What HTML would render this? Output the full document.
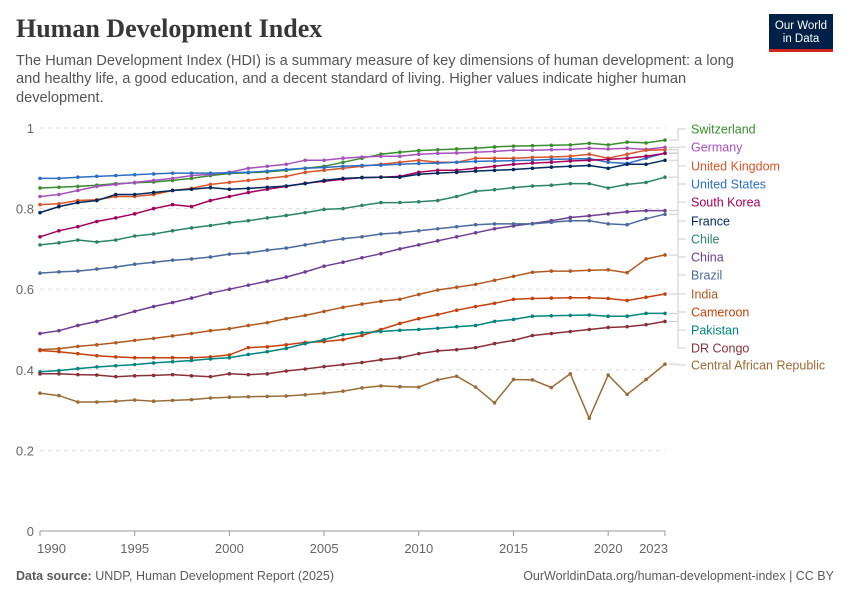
<!DOCTYPE html>
<html><head><meta charset="utf-8">
<style>
body{margin:0;background:#fff;font-family:"Liberation Sans",sans-serif;}
#wrap{position:relative;width:850px;height:600px;overflow:hidden;}
.title{position:absolute;left:16px;top:14px;font-family:"Liberation Serif",serif;font-size:26px;font-weight:bold;color:#373737;}
.sub{position:absolute;left:16px;top:52px;width:740px;font-size:14.6px;line-height:18.3px;color:#555;}
.logo{position:absolute;left:769px;top:14px;width:64px;height:38px;background:#002147;border-bottom:3px solid #ce261e;box-sizing:border-box;color:#fff;font-size:11.5px;line-height:13px;text-align:center;padding-top:6px;}
.foot{position:absolute;top:569px;font-size:12.5px;color:#5b5b5b;}
</style></head><body>
<div id="wrap">
<div class="title">Human Development Index</div>
<div class="sub">The Human Development Index (HDI) is a summary measure of key dimensions of human development: a long and healthy life, a good education, and a decent standard of living. Higher values indicate higher human development.</div>
<div class="logo">Our World<br>in Data</div>
<svg id="chart" width="850" height="600" style="position:absolute;left:0;top:0"></svg>
<div class="foot" style="left:16px"><b>Data source:</b> UNDP, Human Development Report (2025)</div>
<div class="foot" style="right:16px">OurWorldinData.org/human-development-index | CC BY</div>
</div>
<script>
const years=[];for(let y=1990;y<=2023;y++)years.push(y);
const yTicks=[0,0.2,0.4,0.6,0.8,1];
const yTickLabels=["0","0.2","0.4","0.6","0.8","1"];
const xTicks=[1990,1995,2000,2005,2010,2015,2020,2023];
const seriesNames=["Switzerland","Germany","United Kingdom","United States","South Korea","France","Chile","China","Brazil","India","Cameroon","Pakistan","DR Congo","Central African Republic"];
const seriesColors=["#3a8c2e","#a652ba","#d9552b","#2d6fc4","#a2005c","#00295b","#2c8465","#6d3e91","#4c6a9c","#b05a22","#c4410e","#00847e","#883039","#996d39"];
const labelY=[129,147,166,184,202,221,239,257,275,294,312,330,348,365];
const switzerland=[0.851,0.853,0.855,0.858,0.862,0.864,0.866,0.87,0.875,0.882,0.887,0.889,0.891,0.895,0.9,0.905,0.915,0.925,0.935,0.94,0.944,0.946,0.948,0.95,0.953,0.955,0.956,0.957,0.958,0.962,0.958,0.965,0.963,0.97];
const germany=[0.83,0.835,0.845,0.855,0.86,0.865,0.87,0.875,0.882,0.885,0.89,0.9,0.905,0.91,0.92,0.92,0.925,0.928,0.93,0.93,0.935,0.937,0.938,0.94,0.942,0.945,0.945,0.946,0.947,0.95,0.948,0.95,0.947,0.952];
const uk=[0.81,0.812,0.82,0.822,0.83,0.83,0.835,0.845,0.85,0.86,0.865,0.87,0.875,0.88,0.89,0.895,0.9,0.905,0.91,0.915,0.92,0.915,0.915,0.925,0.925,0.925,0.927,0.928,0.93,0.935,0.925,0.935,0.945,0.946];
const us=[0.875,0.875,0.878,0.88,0.882,0.884,0.886,0.888,0.888,0.888,0.889,0.89,0.893,0.897,0.9,0.902,0.905,0.907,0.908,0.91,0.912,0.913,0.915,0.917,0.918,0.919,0.92,0.922,0.923,0.924,0.915,0.912,0.925,0.938];
const southKorea=[0.73,0.745,0.755,0.768,0.777,0.787,0.8,0.81,0.805,0.82,0.83,0.84,0.848,0.855,0.863,0.868,0.873,0.877,0.878,0.88,0.89,0.895,0.895,0.9,0.905,0.91,0.913,0.915,0.918,0.92,0.922,0.925,0.93,0.937];
const france=[0.79,0.805,0.815,0.82,0.835,0.835,0.84,0.845,0.848,0.852,0.848,0.85,0.853,0.856,0.862,0.87,0.875,0.877,0.878,0.878,0.885,0.888,0.89,0.893,0.895,0.897,0.9,0.903,0.905,0.907,0.9,0.91,0.91,0.92];
const chile=[0.71,0.715,0.722,0.717,0.722,0.732,0.737,0.745,0.752,0.758,0.765,0.77,0.777,0.783,0.79,0.798,0.8,0.808,0.815,0.815,0.817,0.82,0.83,0.843,0.847,0.852,0.856,0.858,0.862,0.862,0.851,0.86,0.865,0.878];
const china=[0.49,0.497,0.51,0.52,0.532,0.545,0.557,0.567,0.578,0.59,0.6,0.61,0.62,0.63,0.643,0.657,0.667,0.678,0.688,0.7,0.71,0.72,0.73,0.74,0.75,0.757,0.763,0.77,0.778,0.782,0.787,0.792,0.795,0.795];
const brazil=[0.64,0.643,0.645,0.65,0.655,0.662,0.667,0.672,0.675,0.68,0.687,0.69,0.697,0.702,0.71,0.718,0.725,0.73,0.737,0.74,0.745,0.75,0.755,0.76,0.762,0.762,0.762,0.766,0.77,0.77,0.762,0.76,0.775,0.786];
const india=[0.45,0.452,0.458,0.462,0.467,0.473,0.478,0.484,0.49,0.497,0.502,0.51,0.517,0.527,0.535,0.545,0.555,0.563,0.57,0.575,0.587,0.598,0.605,0.612,0.622,0.632,0.642,0.645,0.645,0.647,0.648,0.641,0.675,0.685];
const cameroon=[0.448,0.445,0.44,0.435,0.432,0.43,0.43,0.43,0.43,0.432,0.437,0.455,0.457,0.462,0.468,0.47,0.475,0.485,0.5,0.515,0.527,0.537,0.548,0.557,0.565,0.575,0.577,0.578,0.579,0.579,0.577,0.572,0.58,0.588];
const pakistan=[0.395,0.398,0.403,0.407,0.41,0.413,0.417,0.42,0.423,0.427,0.43,0.438,0.445,0.453,0.465,0.475,0.487,0.492,0.495,0.498,0.5,0.503,0.507,0.51,0.52,0.525,0.533,0.534,0.535,0.536,0.533,0.533,0.54,0.54];
const drCongo=[0.39,0.39,0.388,0.387,0.383,0.385,0.386,0.388,0.385,0.383,0.39,0.388,0.39,0.397,0.402,0.408,0.413,0.418,0.425,0.43,0.44,0.447,0.45,0.455,0.465,0.473,0.485,0.49,0.495,0.5,0.505,0.507,0.512,0.52];
const car=[0.342,0.336,0.32,0.32,0.322,0.325,0.322,0.324,0.326,0.33,0.332,0.333,0.334,0.335,0.338,0.342,0.347,0.355,0.36,0.358,0.357,0.375,0.384,0.357,0.318,0.376,0.375,0.356,0.39,0.28,0.387,0.339,0.376,0.414];
const seriesValues=[switzerland,germany,uk,us,southKorea,france,chile,china,brazil,india,cameroon,pakistan,drCongo,car];

const NS="http://www.w3.org/2000/svg";
const svg=document.getElementById('chart');
const X0=40,X1=665,Y0=531,Y1=128;
const xs=y=>X0+(y-1990)/(2023-1990)*(X1-X0);
const ys=v=>Y0-v*(Y0-Y1);
function mk(tag,attrs,parent){const e=document.createElementNS(NS,tag);for(const k in attrs)e.setAttribute(k,attrs[k]);(parent||svg).appendChild(e);return e;}

yTicks.forEach((t,i)=>{
  const g=mk('line',{x1:X0,x2:X1,y1:ys(t),y2:ys(t),stroke:t===0?'#999':'#ddd','stroke-dasharray':t===0?'':'4,4','stroke-width':1});
  
  
  const tx=mk('text',{x:34,y:ys(t)+5,'text-anchor':'end','font-size':13,fill:'#666','font-family':'Liberation Sans,sans-serif'});
  tx.textContent=yTickLabels[i];
  
  
});
xTicks.forEach(t=>{
  const l=mk('line',{x1:xs(t),x2:xs(t),y1:Y0,y2:Y0+5,stroke:'#999'});
  
  
  const tx=mk('text',{x:xs(t),y:553,'text-anchor':t===2023?'end':(t===1990?'start':'middle'),'font-size':13,fill:'#666','font-family':'Liberation Sans,sans-serif'});
  if(t===2023)tx.setAttribute('x',xs(t)+3);
  if(t===1990)tx.setAttribute('x',xs(t)-3);
  tx.textContent=t;
  
  
});

seriesValues.forEach((vals,i)=>{
  const c=seriesColors[i];
  const g=mk('g',{});
  
  
  const pts=vals.map((v,j)=>xs(years[j]).toFixed(1)+','+ys(v).toFixed(1)).join(' ');
  const pl=mk('polyline',{points:pts,fill:'none',stroke:c,'stroke-width':1.5},g);
  
  
  vals.forEach((v,j)=>{
    const d=mk('circle',{cx:xs(years[j]),cy:ys(v),r:1.8,fill:c},g);
    
    
  });
  const ey=ys(vals[vals.length-1]);
  const con=mk('polyline',{points:`${X1+4},${ey} ${678},${ey} ${678},${labelY[i]} ${686},${labelY[i]}`,fill:'none',stroke:'#ccc','stroke-width':1});
  
  
  const lb=mk('text',{x:691,y:labelY[i]+4.5,'font-size':12.5,fill:c,'font-family':'Liberation Sans,sans-serif'});
  lb.textContent=seriesNames[i];
  
  
});
</script>
</body></html>
